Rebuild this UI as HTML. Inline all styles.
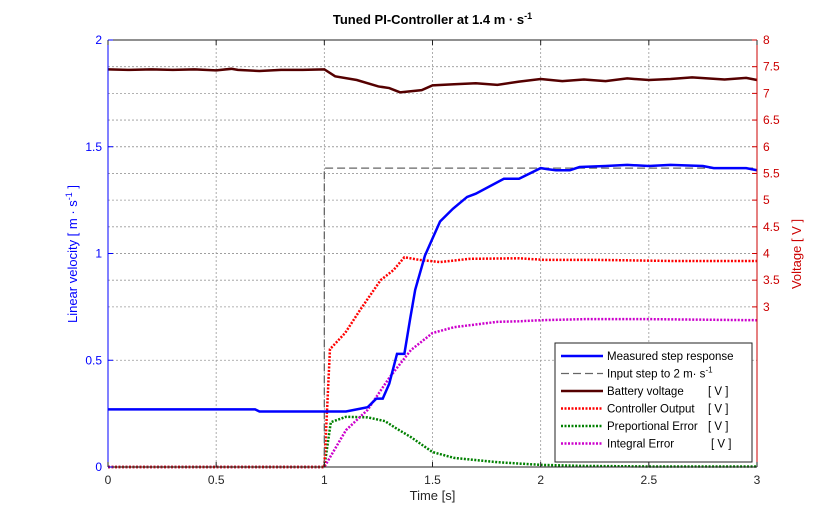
<!DOCTYPE html>
<html><head><meta charset="utf-8"><style>
body{margin:0;background:#fff;}
svg{font-family:"Liberation Sans",Arial,sans-serif;display:block}
</style></head><body>
<svg id="c" width="836" height="525"></svg>
<script>
const tVel=[0,0.68,0.7,1.1,1.15,1.2,1.24,1.27,1.3,1.336,1.37,1.396,1.42,1.465,1.5,1.535,1.595,1.66,1.7,1.83,1.9,2.0,2.03,2.07,2.135,2.18,2.3,2.4,2.5,2.6,2.75,2.8,2.95,3.0];
const vel=[0.27,0.27,0.26,0.26,0.27,0.28,0.32,0.32,0.39,0.53,0.53,0.69,0.83,0.99,1.07,1.15,1.21,1.265,1.28,1.35,1.35,1.40,1.395,1.39,1.39,1.405,1.41,1.415,1.41,1.415,1.41,1.40,1.40,1.39];
const tStep=[0,1,1,3];
const step=[0,0,1.4,1.4];
const tBat=[0,0.1,0.2,0.3,0.4,0.5,0.57,0.6,0.7,0.8,0.9,1.0,1.05,1.15,1.25,1.3,1.35,1.4,1.45,1.5,1.6,1.7,1.8,1.9,2.0,2.1,2.2,2.3,2.4,2.5,2.6,2.7,2.85,2.95,3.0];
const bat=[7.45,7.44,7.45,7.44,7.45,7.43,7.46,7.44,7.42,7.44,7.44,7.45,7.32,7.25,7.13,7.1,7.02,7.04,7.06,7.15,7.17,7.19,7.16,7.22,7.27,7.23,7.26,7.23,7.28,7.25,7.27,7.3,7.26,7.29,7.25];
const tCtl=[0,1.0,1.026,1.036,1.096,1.165,1.26,1.32,1.37,1.44,1.535,1.67,1.9,2.02,2.27,2.6,3.0];
const ctl=[0,0,2.21,2.25,2.51,2.94,3.5,3.69,3.93,3.88,3.84,3.9,3.91,3.88,3.88,3.86,3.86];
const tPro=[0,1.0,1.03,1.1,1.2,1.28,1.33,1.4,1.5,1.6,1.8,2.0,2.2,2.5,3.0];
const pro=[0,0,0.84,0.94,0.93,0.86,0.73,0.56,0.28,0.17,0.09,0.04,0.02,0.01,0.01];
const tInt=[0,1.0,1.1,1.2,1.3,1.4,1.5,1.6,1.7,1.8,1.9,2.0,2.2,2.5,3.0];
const integ=[0,0,0.69,1.07,1.67,2.19,2.51,2.62,2.67,2.72,2.73,2.75,2.77,2.77,2.75];
const xTicks=[0,0.5,1,1.5,2,2.5,3];
const yTicks=[0,0.5,1,1.5,2];
const y2Ticks=[3,3.5,4,4.5,5,5.5,6,6.5,7,7.5,8];

const L=108,R=757,T=40,B=467;
const X=t=>L+(R-L)*t/3, Y=v=>B-(B-T)*v/2, Y2=v=>B-(B-T)*v/8;
const svg=document.getElementById('c'),NS='http://www.w3.org/2000/svg';
function el(tag,attrs,parent){const e=document.createElementNS(NS,tag);for(const k in attrs)e.setAttribute(k,attrs[k]);(parent||svg).appendChild(e);return e;}
function txt(s,attrs,name){const e=el('text',attrs);e.textContent=s;

return e;}
const grid=el('g',{stroke:'#999','stroke-dasharray':'2,2','stroke-width':0.8});


xTicks.forEach(t=>el('line',{x1:X(t),x2:X(t),y1:T,y2:B},grid));
yTicks.forEach(v=>el('line',{x1:L,x2:R,y1:Y(v),y2:Y(v)},grid));
y2Ticks.forEach(v=>el('line',{x1:L,x2:R,y1:Y2(v),y2:Y2(v)},grid));
function line(xs,ys,yf,stroke,w,dash,name){
 const p=el('polyline',{points:xs.map((t,i)=>X(t)+','+yf(ys[i])).join(' '),fill:'none',stroke:stroke,'stroke-width':w,'stroke-dasharray':dash||'none'});
 
 }
line(tPro,pro,Y2,'#008000',2.5,'2,1.5','proportional-error-line');
line(tInt,integ,Y2,'#cc00cc',2.5,'2,1.5','integral-error-line');
line(tCtl,ctl,Y2,'#ff0000',2.5,'2,1.5','controller-output-line');
line(tBat,bat,Y2,'#550000',2.5,'','battery-voltage-line');
line(tStep,step,Y,'#666',1.3,'8,4','input-step-line');
line(tVel,vel,Y,'#0000ff',2.5,'','measured-velocity-line');
el('line',{x1:L,x2:R,y1:T,y2:T,stroke:'#222'});
el('line',{x1:L,x2:R,y1:B,y2:B,stroke:'#222'});
el('line',{x1:L,x2:L,y1:T,y2:B,stroke:'#0000ff'});
el('line',{x1:R,x2:R,y1:T,y2:B,stroke:'#cc0000'});
xTicks.forEach(t=>{el('line',{x1:X(t),x2:X(t),y1:B,y2:B-5,stroke:'#222'});el('line',{x1:X(t),x2:X(t),y1:T,y2:T+5,stroke:'#222'});
 txt(String(t),{x:X(t),y:B+17,'text-anchor':'middle','font-size':12,fill:'#262626'},'x-tick-label');});
yTicks.forEach(v=>{el('line',{x1:L,x2:L+5,y1:Y(v),y2:Y(v),stroke:'#0000ff'});
 txt(String(v),{x:L-6,y:Y(v)+4,'text-anchor':'end','font-size':12,fill:'#0000ff'},'y-tick-label');});
y2Ticks.forEach(v=>{el('line',{x1:R-5,x2:R,y1:Y2(v),y2:Y2(v),stroke:'#cc0000'});
 txt(String(v),{x:R+6,y:Y2(v)+4,'text-anchor':'start','font-size':12,fill:'#cc0000'},'y2-tick-label');});
txt('Time [s]',{x:(L+R)/2,y:500,'text-anchor':'middle','font-size':13,fill:'#262626'},'x-axis-title');
const yl=txt('',{transform:'translate(77,254) rotate(-90)','text-anchor':'middle','font-size':13,fill:'#0000ff'},'y-axis-title');
yl.innerHTML='Linear velocity [ m · s<tspan dy="-5" font-size="9">-1</tspan><tspan dy="5"> ]</tspan>';
txt('Voltage [ V ]',{transform:'translate(801,254) rotate(-90)','text-anchor':'middle','font-size':13,fill:'#cc0000'},'y2-axis-title');
const ti=txt('',{x:(L+R)/2,y:24,'text-anchor':'middle','font-size':13,'font-weight':'bold',fill:'#000'},'chart-title');
ti.innerHTML='Tuned PI-Controller at 1.4 m · s<tspan dy="-5" font-size="9">-1</tspan>';
const lg=el('g',{});


el('rect',{x:555,y:343,width:197,height:119,fill:'#fff',stroke:'#222'},lg);
const items=[['Measured step response','#0000ff','',''],['Input step to 2 m· s','#666','8,4',''],['Battery voltage','#550000','','[ V ]'],['Controller Output','#ff0000','2,1.5','[ V ]'],['Preportional Error','#008000','2,1.5','[ V ]'],['Integral Error','#cc00cc','2,1.5','[ V ]']];
items.forEach((it,i)=>{const y=356+i*17.5;
 el('line',{x1:561,x2:603,y1:y,y2:y,stroke:it[1],'stroke-width':it[1]=='#666'?1.3:2.5,'stroke-dasharray':it[2]||'none'},lg);
 const t=el('text',{x:607,y:y+4,'font-size':11.5,fill:'#000'},lg);t.textContent=it[0];
 
 
 if(i==1){const s=el('tspan',{dy:-5,'font-size':8},t);s.textContent='-1';}
 if(it[3]){const u=el('text',{x:i==5?711:708,y:y+4,'font-size':11.5,fill:'#000'},lg);u.textContent=it[3];}
});
</script>
</body></html>
